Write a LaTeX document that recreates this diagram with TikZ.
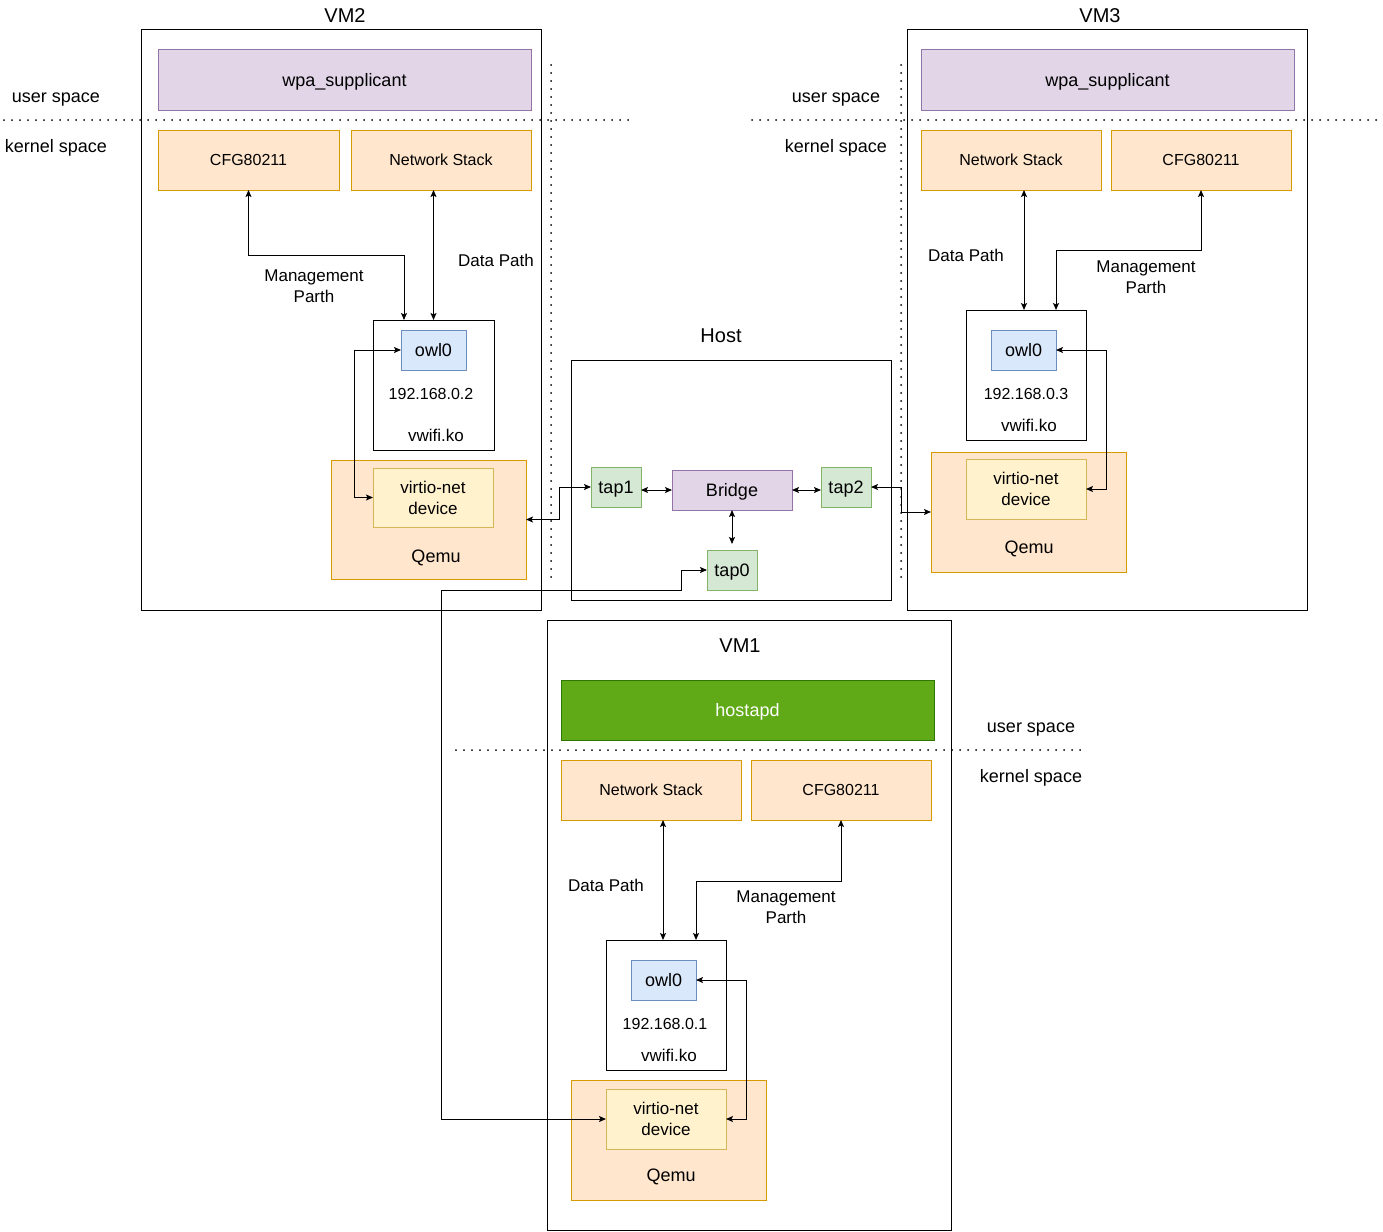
\documentclass[tikz,border=0pt]{standalone}
\usepackage{fontspec}
\setmainfont{Liberation Sans}
\usetikzlibrary{arrows.meta}
\definecolor{pfill}{HTML}{E1D5E7}\definecolor{pline}{HTML}{9673A6}
\definecolor{ofill}{HTML}{FFE6CC}\definecolor{oline}{HTML}{D79B00}
\definecolor{bfill}{HTML}{DAE8FC}\definecolor{bline}{HTML}{6C8EBF}
\definecolor{gfill}{HTML}{D5E8D4}\definecolor{gline}{HTML}{82B366}
\definecolor{yfill}{HTML}{FFF2CC}\definecolor{yline}{HTML}{D6B656}
\definecolor{hfill}{HTML}{60A917}\definecolor{hline}{HTML}{2D7600}
\newcommand{\fs}[1]{\fontsize{#1pt}{21pt}\selectfont}
\begin{document}
\begin{tikzpicture}[x=1pt,y=-1pt,
  fa/.style={font=\fs{16}, text height=11.5pt, text depth=0pt},
  fb/.style={font=\fs{17}, text height=12.2pt, text depth=0pt},
  fc/.style={font=\fs{18}, text height=13pt, text depth=0pt},
  fd/.style={font=\fs{20}, text height=14.4pt, text depth=0pt},
  box/.style={draw, line width=1pt, inner sep=0pt, outer sep=0pt, align=center},
  vmbox/.style={box, draw=black},
  purplebox/.style={box, fill=pfill, draw=pline, fc},
  orangebox/.style={box, fill=ofill, draw=oline, fa},
  bluebox/.style={box, fill=bfill, draw=bline, fc},
  greenbox/.style={box, fill=gfill, draw=gline, fc},
  yellowbox/.style={box, fill=yfill, draw=yline, font=\fs{17}},
  qemubox/.style={box, fill=ofill, draw=oline},
  txt/.style={inner sep=0pt, align=center, fb},
  mtxt/.style={inner sep=0pt, align=center, font=\fs{17}},
  title/.style={inner sep=0pt, fd},
  space/.style={inner sep=0pt, fc},
  dots/.style={line width=2pt, line cap=round, dash pattern=on 0pt off 8pt},
  bi/.style={line width=1pt, {Stealth[length=7pt,width=6pt,inset=1.5pt]}-{Stealth[length=7pt,width=6pt,inset=1.5pt]}}
]
\useasboundingbox (0,0) rectangle (1383,1231);

% ---------------- VM2 ----------------
\node[vmbox, minimum width=400pt, minimum height=580pt] (vm2) at (341,320) {};
\node[title] (vm2t) at (345,15) {VM2};
\node[purplebox, minimum width=373pt, minimum height=60pt] (vm2wpa) at (344.5,80) {wpa\_supplicant};
\node[orangebox, minimum width=181pt, minimum height=60pt] (vm2cfg) at (248.5,160) {CFG80211};
\node[orangebox, minimum width=180pt, minimum height=60pt] (vm2ns) at (441,160) {Network Stack};
\node[vmbox, minimum width=121pt, minimum height=130pt] (vm2vw) at (433.5,385) {};
\node[bluebox, minimum width=65pt, minimum height=40pt] (vm2owl) at (433.5,350) {owl0};
\node[txt, fa] (vm2ip) at (431,394) {192.168.0.2};
\node[txt] (vm2ko) at (436,435) {vwifi.ko};
\node[qemubox, minimum width=195pt, minimum height=119pt] (vm2qemu) at (428.5,519.5) {};
\node[yellowbox, minimum width=120pt, minimum height=59pt] (vm2virt) at (433,497.5) {virtio-net\\device};
\node[txt, fc] (vm2ql) at (436,556) {Qemu};
\node[mtxt] (vm2mg) at (314,286) {Management\\Parth};
\node[txt] (vm2dp) at (496,260) {Data Path};
\node[space] (us1) at (56,96) {user space};
\node[space] (ks1) at (56,146) {kernel space};

% ---------------- Host ----------------
\node[vmbox, minimum width=320pt, minimum height=240pt] (host) at (731,480) {};
\node[title] (hostt) at (721,335) {Host};
\node[greenbox, minimum width=50pt, minimum height=40pt] (tap1) at (616,487) {tap1};
\node[purplebox, minimum width=120pt, minimum height=40pt] (bridge) at (732,490) {Bridge};
\node[greenbox, minimum width=50pt, minimum height=40pt] (tap2) at (846,487) {tap2};
\node[greenbox, minimum width=50pt, minimum height=40pt] (tap0) at (732,570) {tap0};

% ---------------- VM3 ----------------
\node[vmbox, minimum width=400pt, minimum height=580pt] (vm3) at (1107,320) {};
\node[title] (vm3t) at (1100,15) {VM3};
\node[purplebox, minimum width=373pt, minimum height=60pt] (vm3wpa) at (1107.5,80) {wpa\_supplicant};
\node[orangebox, minimum width=180pt, minimum height=60pt] (vm3ns) at (1011,160) {Network Stack};
\node[orangebox, minimum width=180pt, minimum height=60pt] (vm3cfg) at (1201,160) {CFG80211};
\node[vmbox, minimum width=120pt, minimum height=130pt] (vm3vw) at (1026,375) {};
\node[bluebox, minimum width=65pt, minimum height=40pt] (vm3owl) at (1023.5,350) {owl0};
\node[txt, fa] (vm3ip) at (1026,394) {192.168.0.3};
\node[txt] (vm3ko) at (1029,425) {vwifi.ko};
\node[qemubox, minimum width=195pt, minimum height=120pt] (vm3qemu) at (1028.5,512) {};
\node[yellowbox, minimum width=120pt, minimum height=60pt] (vm3virt) at (1026,489) {virtio-net\\device};
\node[txt, fc] (vm3ql) at (1029,547) {Qemu};
\node[txt] (vm3dp) at (966,255) {Data Path};
\node[mtxt] (vm3mg) at (1146,277) {Management\\Parth};
\node[space] (us3) at (836,96) {user space};
\node[space] (ks3) at (836,146) {kernel space};

% ---------------- VM1 ----------------
\node[vmbox, minimum width=404pt, minimum height=610pt] (vm1) at (749,925) {};
\node[title] (vm1t) at (740,645) {VM1};
\node[box, fill=hfill, draw=hline, text=white, fc, minimum width=373pt, minimum height=60pt] (hostapd) at (747.5,710) {hostapd};
\node[orangebox, minimum width=180pt, minimum height=60pt] (vm1ns) at (651,790) {Network Stack};
\node[orangebox, minimum width=180pt, minimum height=60pt] (vm1cfg) at (841,790) {CFG80211};
\node[vmbox, minimum width=120pt, minimum height=130pt] (vm1vw) at (666,1005) {};
\node[bluebox, minimum width=65pt, minimum height=40pt] (vm1owl) at (663.5,980) {owl0};
\node[txt, fa] (vm1ip) at (665,1024) {192.168.0.1};
\node[txt] (vm1ko) at (669,1055) {vwifi.ko};
\node[qemubox, minimum width=195pt, minimum height=120pt] (vm1qemu) at (668.5,1140) {};
\node[yellowbox, minimum width=120pt, minimum height=60pt] (vm1virt) at (666,1119) {virtio-net\\device};
\node[txt, fc] (vm1ql) at (671,1175) {Qemu};
\node[txt] (vm1dp) at (606,885) {Data Path};
\node[mtxt] (vm1mg) at (786,907) {Management\\Parth};
\node[space] (us2) at (1031,726) {user space};
\node[space] (ks2) at (1031,776) {kernel space};

% ---------------- dotted separators ----------------
\draw[dots] (4,120) -- (630,120);
\draw[dots] (551,65) -- (551,580);
\draw[dots] (752,120) -- (1380,120);
\draw[dots] (901,65) -- (901,580);
\draw[dots] (456,750) -- (1085,750);

% ---------------- connectors ----------------
% VM2
\draw[bi] (vm2cfg.south) -- ++(0,65) -| ([xshift=-29.5pt]vm2vw.north);
\draw[bi] (vm2vw.north) -- (vm2vw.north |- vm2ns.south);
\draw[bi] (vm2owl.west) -- ++(-47,0) |- (vm2virt.west);
\draw[bi] (tap1.west) -- ++(-32,0) |- (vm2qemu.east);
% Host
\draw[bi] (bridge.west) -- (bridge.west -| tap1.east);
\draw[bi] (bridge.east) -- (bridge.east -| tap2.west);
\draw[bi, shorten >=6pt] (bridge.south) -- (tap0.north);
\draw[bi] (tap0.west) -- ++(-26,0) -- ++(0,20) -- ++(-240,0) |- (vm1virt.west);
\draw[bi] (tap2.east) -- ++(30,0) |- (vm3qemu.west);
% VM3
\draw[bi] ([xshift=-2pt]vm3vw.north) -- ([xshift=-2pt]vm3vw.north |- vm3ns.south);
\draw[bi] (vm3cfg.south) -- ++(0,60) -| ([xshift=30pt]vm3vw.north);
\draw[bi] (vm3owl.east) -- ++(50,0) |- (vm3virt.east);
% VM1
\draw[bi] ([xshift=-3pt]vm1vw.north) -- ([xshift=-3pt]vm1vw.north |- vm1ns.south);
\draw[bi] (vm1cfg.south) -- ++(0,61) -| ([xshift=30pt]vm1vw.north);
\draw[bi] (vm1owl.east) -- ++(50,0) |- (vm1virt.east);
\end{tikzpicture}
\end{document}
